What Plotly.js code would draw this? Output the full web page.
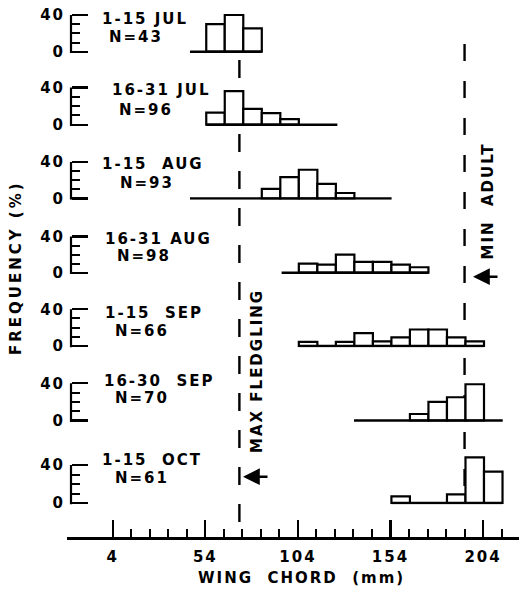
<!DOCTYPE html>
<html><head><meta charset="utf-8">
<script src="https://cdn.plot.ly/plotly-3.0.1.min.js"></script>
<style>
html,body{margin:0;padding:0;background:#fff}
text{letter-spacing:2px}
</style></head>
<body><div id="chart" style="width:519px;height:590px"></div>
<script>
// ---------- data ----------
const periods = ["1-15 JUL","16-31 JUL","1-15  AUG","16-31 AUG","1-15  SEP","16-30  SEP","1-15  OCT"];
const sampleN = [43, 96, 93, 98, 66, 70, 61];

const binsJul1 = [59.5, 69.5, 79.5];
const freqJul1 = [30, 40, 25.5];
const binsJul2 = [59.5, 69.5, 79.5, 89.5, 99.5];
const freqJul2 = [13, 36, 17, 12.5, 6];
const binsAug1 = [89.5, 99.5, 109.5, 119.5, 129.5];
const freqAug1 = [10.5, 23.5, 31.5, 16, 6];
const binsAug2 = [109.5, 119.5, 129.5, 139.5, 149.5, 159.5, 169.5];
const freqAug2 = [10, 9, 20, 12, 12, 9, 6];
const binsSep1 = [109.5, 129.5, 139.5, 149.5, 159.5, 169.5, 179.5, 189.5, 199.5];
const freqSep1 = [4.5, 4.5, 14, 5, 9.5, 18, 18, 9.5, 5];
const binsSep2 = [169.5, 179.5, 189.5, 199.5];
const freqSep2 = [7, 20, 25, 39];
const binsOct1 = [159.5, 189.5, 199.5, 209.5];
const freqOct1 = [7, 9, 48, 33];

// extent of each panel's baseline (mm)
const baseStart = [45.7, 54.5, 45.7, 95.2, 104.5, 134.3, 154.5];
const baseEnd   = [84.5, 125.3, 154.6, 174.5, 204.5, 214.6, 214.5];

const maxFledgling = 72.4;
const minAdult = 194;

const xMajorTicks = [4, 54, 104, 154, 204];
const xMinorTicks = [14,24,34,44,64,74,84,94,114,124,134,144,164,174,184,194,214];
const yMajorTicks = [0, 40];
const yMinorTicks = [10, 20, 30];

const bins = [binsJul1, binsJul2, binsAug1, binsAug2, binsSep1, binsSep2, binsOct1];
const freqs = [freqJul1, freqJul2, freqAug1, freqAug2, freqSep1, freqSep2, freqOct1];

// ---------- layout geometry (pixels) ----------
const L = 67, R = 519, T = 0, B = 538;
const W = R - L, H = B - T;
const px2x = p => (p - L) / W;
const py2y = p => (B - p) / H;
const panelY0  = [51.7, 124.7, 198.5, 272.7, 346, 420.5, 503];
const panelY40 = [15, 87.5, 162, 236.5, 309.3, 383.3, 465];
const yLow = -1.5, yHigh = 52;
const yAxisPos = 4 / W;

const FONT = {family: 'DejaVu Sans', size: 15, color: '#000', weight: 'bold'};

const traces = [];
const layout = {
  width: 519, height: 590,
  margin: {l: L, r: 519 - R, t: T, b: 590 - B},
  paper_bgcolor: '#fff', plot_bgcolor: 'rgba(0,0,0,0)',
  showlegend: false,
  bargap: 0,
  font: FONT,
  xaxis: {
    domain: [0, 1], range: [-20.7, 223.4], anchor: 'free', position: 0,
    showline: true, linewidth: 2.5, linecolor: '#000',
    ticks: 'inside', tickmode: 'array', tickvals: xMajorTicks,
    ticktext: xMajorTicks.map(String),
    ticklen: 17, tickwidth: 2.2, tickcolor: '#000',
    minor: {tickmode: 'array', tickvals: xMinorTicks, ticks: 'inside', ticklen: 8, tickwidth: 2, tickcolor: '#000', showgrid: false},
    showgrid: false, zeroline: false, tickfont: FONT, ticklabelstandoff: 4,
    fixedrange: true
  },
  shapes: [],
  annotations: []
};

for (let i = 0; i < 7; i++) {
  const yid = i === 0 ? 'y' : 'y' + (i + 1);
  const yname = i === 0 ? 'yaxis' : 'yaxis' + (i + 1);
  const pxPerUnit = (panelY0[i] - panelY40[i]) / 40;
  const bottomPx = panelY0[i] - yLow * pxPerUnit;
  const topPx = panelY0[i] - yHigh * pxPerUnit;
  layout[yname] = {
    domain: [py2y(bottomPx), py2y(topPx)],
    range: [yLow, yHigh], anchor: 'free', position: yAxisPos,
    showline: false,
    ticks: 'inside', tickmode: 'array', tickvals: yMajorTicks,
    ticktext: yMajorTicks.map(String),
    ticklen: 16, tickwidth: 2.2, tickcolor: '#000',
    minor: {tickmode: 'array', tickvals: yMinorTicks, ticks: 'inside', ticklen: 8, tickwidth: 2, tickcolor: '#000', showgrid: false},
    showgrid: false, zeroline: false, tickfont: FONT, ticklabelstandoff: 6,
    fixedrange: true
  };
  // vertical spine of the small frequency scale (0 to 40 %)
  layout.shapes.push({type: 'line', xref: 'paper', yref: yid,
    x0: yAxisPos, x1: yAxisPos, y0: yLow, y1: 40,
    line: {color: '#000', width: 2.2}});
  // baseline of the panel
  traces.push({
    type: 'scatter', mode: 'lines', x: [baseStart[i], baseEnd[i]], y: [0, 0],
    xaxis: 'x', yaxis: yid, line: {color: '#000', width: 2.4}, hoverinfo: 'skip'
  });
  // histogram
  traces.push({
    type: 'bar', x: bins[i], y: freqs[i], width: 10,
    xaxis: 'x', yaxis: yid, cliponaxis: false,
    marker: {color: '#fff', line: {color: '#000', width: 2.2}}, hoverinfo: 'skip'
  });
  // labels
  const lab1 = [[100,19],[110,90],[100,164],[103,239],[103,312.5],[102,381],[100,459.5]][i];
  const lab2 = [[107,36.7],[117,110],[118,183],[115,256],[113,331],[113,397.5],[113,477.5]][i];
  layout.annotations.push({
    xref: 'paper', yref: 'paper', x: px2x(lab1[0]), y: py2y(lab1[1]),
    xanchor: 'left', yanchor: 'middle', showarrow: false,
    text: periods[i], font: FONT
  });
  layout.annotations.push({
    xref: 'paper', yref: 'paper', x: px2x(lab2[0]), y: py2y(lab2[1]),
    xanchor: 'left', yanchor: 'middle', showarrow: false,
    text: 'N=' + sampleN[i], font: FONT
  });
}

// dashed reference lines
layout.shapes.push({type: 'line', layer: 'below', xref: 'x', yref: 'paper',
  x0: maxFledgling, x1: maxFledgling, y0: py2y(60), y1: py2y(522),
  line: {color: '#000', width: 2.4, dash: '18px,19px'}});
layout.shapes.push({type: 'line', layer: 'below', xref: 'x', yref: 'paper',
  x0: minAdult, x1: minAdult, y0: py2y(44), y1: py2y(320),
  line: {color: '#000', width: 2.4, dash: '17px,20px'}});
layout.shapes.push({type: 'line', layer: 'below', xref: 'x', yref: 'paper',
  x0: minAdult, x1: minAdult, y0: py2y(358), y1: py2y(503),
  line: {color: '#000', width: 2.4, dash: '17px,20px'}});

// text labels for reference lines
layout.annotations.push({xref: 'paper', yref: 'paper', x: px2x(257), y: py2y(371),
  xanchor: 'center', yanchor: 'middle', textangle: -90, showarrow: false,
  text: 'MAX FLEDGLING', font: FONT});
layout.annotations.push({xref: 'paper', yref: 'paper', x: px2x(487.5), y: py2y(201),
  xanchor: 'center', yanchor: 'middle', textangle: -90, showarrow: false,
  text: 'MIN  ADULT', font: FONT});
// arrows
layout.annotations.push({xref: 'paper', yref: 'paper', x: px2x(243), y: py2y(476.7),
  text: '', showarrow: true, ax: 26, ay: 0, arrowhead: 2, arrowsize: 1.4,
  arrowwidth: 2.4, arrowcolor: '#000', standoff: 0});
layout.annotations.push({xref: 'paper', yref: 'paper', x: px2x(473), y: py2y(276.7),
  text: '', showarrow: true, ax: 26, ay: 0, arrowhead: 2, arrowsize: 1.4,
  arrowwidth: 2.4, arrowcolor: '#000', standoff: 0});

// axis titles
layout.annotations.push({xref: 'paper', yref: 'paper', x: px2x(301), y: py2y(578),
  xanchor: 'center', yanchor: 'middle', showarrow: false,
  text: 'WING  CHORD  (mm)', font: FONT});
layout.annotations.push({xref: 'paper', yref: 'paper', x: px2x(16), y: py2y(268),
  xanchor: 'center', yanchor: 'middle', textangle: -90, showarrow: false,
  text: '<span style="letter-spacing:3px">FREQUENCY (%)</span>', font: FONT});

Plotly.newPlot('chart', traces, layout, {staticPlot: true, displayModeBar: false});
</script>
</body></html>
